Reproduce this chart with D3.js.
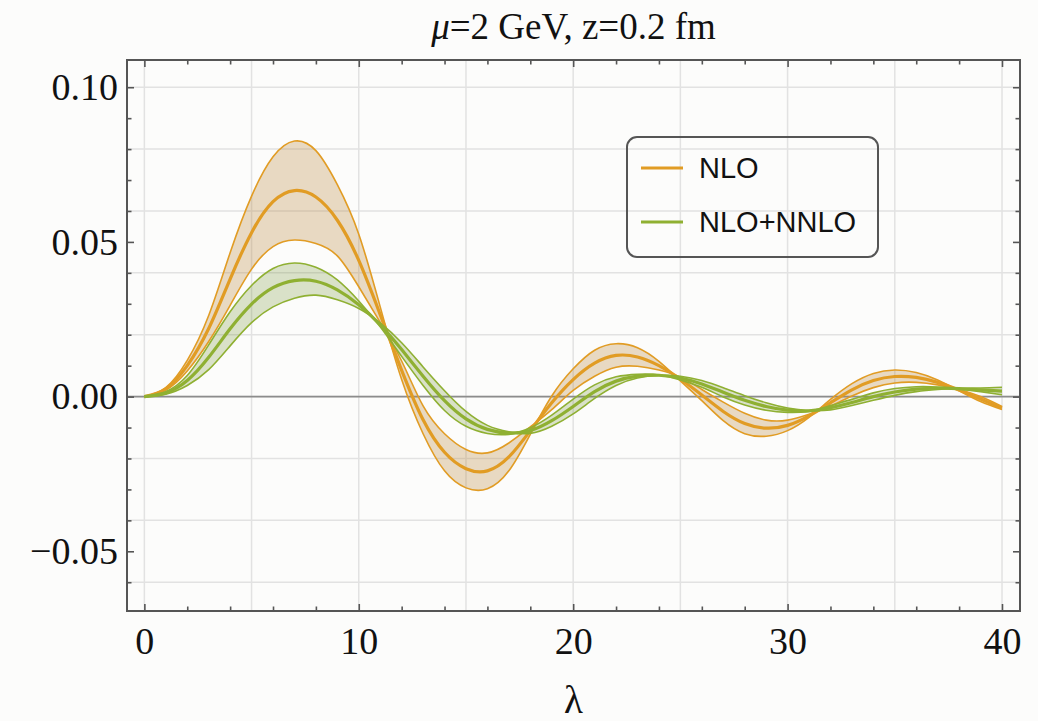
<!DOCTYPE html>
<html lang="en">
<head>
  <meta charset="utf-8" />
  <title>mu=2 GeV, z=0.2 fm</title>
  <script src="https://cdn.jsdelivr.net/npm/d3@7"></script>
  <style>
    body {
      margin: 0;
      background: #fcfcfb;
    }
    svg {
      display: block;
    }
    .tick text {
      font-family: "Liberation Serif", "Times New Roman", serif;
      font-size: 38px;
      fill: #111;
    }
  </style>
</head>
<body>

  <div id="chart"></div>

  <script type="text/javascript">

    // values, one per unit of lambda
    const lambda = [0, 1, 2, 3, 4, 5, 6, 7, 8, 9, 10, 11, 12, 13, 14, 15, 16, 17, 18, 19, 20,
                    21, 22, 23, 24, 25, 26, 27, 28, 29, 30, 31, 32, 33, 34, 35, 36, 37, 38, 39, 40];

    const nloCentral = [0, 0.0025, 0.0100, 0.0220, 0.0380, 0.0530, 0.0630, 0.0666, 0.0645, 0.0570, 0.0440,
                        0.0265, 0.0085, -0.0075, -0.0180, -0.0233, -0.0240, -0.0195, -0.0110, -0.0020, 0.0055,
                        0.0108, 0.0133, 0.0128, 0.0100, 0.0057, 0.0005, -0.0048, -0.0087, -0.0102, -0.0093,
                        -0.0062, -0.0020, 0.0022, 0.0052, 0.0065, 0.0062, 0.0046, 0.0021, -0.0008, -0.0037];
    const nloEdgeA = [0, 0.0029, 0.0117, 0.0262, 0.0465, 0.0648, 0.0775, 0.0826, 0.0795, 0.0685, 0.0525,
                      0.0290, 0.0055, -0.0120, -0.0240, -0.0295, -0.0298, -0.0240, -0.0122, 0.0002, 0.0090,
                      0.0150, 0.0171, 0.0158, 0.0114, 0.0051, -0.0013, -0.0078, -0.0120, -0.0128, -0.0110,
                      -0.0067, -0.0009, 0.0042, 0.0075, 0.0086, 0.0078, 0.0054, 0.0019, -0.0016, -0.0042];
    const nloEdgeB = [0, 0.0021, 0.0083, 0.0178, 0.0295, 0.0412, 0.0485, 0.0506, 0.0495, 0.0455, 0.0355,
                      0.0240, 0.0115, -0.0030, -0.0120, -0.0171, -0.0182, -0.0150, -0.0098, -0.0042, 0.0020,
                      0.0066, 0.0095, 0.0098, 0.0086, 0.0063, 0.0023, -0.0018, -0.0054, -0.0076, -0.0076,
                      -0.0057, -0.0031, 0.0002, 0.0029, 0.0044, 0.0046, 0.0038, 0.0023, 0.0000, -0.0032];

    const nnloCentral = [0, 0.0012, 0.0052, 0.0127, 0.0219, 0.0299, 0.0352, 0.0375, 0.0373, 0.0345, 0.0297,
                         0.0232, 0.0152, 0.0066, -0.0013, -0.0072, -0.0106, -0.0118, -0.0110, -0.0078, -0.0032,
                         0.0016, 0.0050, 0.0066, 0.0069, 0.0060, 0.0041, 0.0014, -0.0012, -0.0032, -0.0044,
                         -0.0046, -0.0036, -0.0019, 0.0000, 0.0015, 0.0024, 0.0027, 0.0026, 0.0022, 0.0018];
    const nnloEdgeA = [0, 0.0016, 0.0068, 0.0167, 0.0274, 0.0359, 0.0414, 0.0432, 0.0418, 0.0377, 0.0309,
                       0.0226, 0.0130, 0.0036, -0.0045, -0.0096, -0.0119, -0.0122, -0.0101, -0.0060, -0.0008,
                       0.0038, 0.0064, 0.0072, 0.0070, 0.0054, 0.0030, -0.0001, -0.0027, -0.0044, -0.0051,
                       -0.0047, -0.0029, -0.0009, 0.0012, 0.0026, 0.0032, 0.0031, 0.0025, 0.0016, 0.0006];
    const nnloEdgeB = [0, 0.0008, 0.0036, 0.0087, 0.0164, 0.0239, 0.0290, 0.0318, 0.0328, 0.0313, 0.0285,
                       0.0238, 0.0174, 0.0096, 0.0019, -0.0048, -0.0093, -0.0114, -0.0119, -0.0096, -0.0056,
                       -0.0006, 0.0036, 0.0060, 0.0068, 0.0066, 0.0052, 0.0029, 0.0003, -0.0020, -0.0037,
                       -0.0045, -0.0043, -0.0029, -0.0012, 0.0004, 0.0016, 0.0023, 0.0027, 0.0028, 0.0030];

    const seriesNames = ["NLO", "NLO+NNLO"];
    const xTickLabels = [0, 10, 20, 30, 40];
    const yTickLabels = [0.10, 0.05, 0.00, -0.05];

    const w = 1038;
    const h = 721;

    const lineColor = ["#e19c24", "#8fb032"];
    const bandColor = ["#b8893f", "#6f8f2f"];
    const bandOpacity = [0.3, 0.25];

    const x = d3.scaleLinear().domain([-0.81, 40.84]).range([127, 1020]);
    const y = d3.scaleLinear().domain([-0.0693, 0.1088]).range([611, 60]);

    const svg = d3.select("#chart")
                  .append("svg")
                  .attr("width", w)
                  .attr("height", h);

    svg.append("rect")
       .attr("width", w)
       .attr("height", h)
       .attr("fill", "#fcfcfb");

    // grid lines
    const xGrid = d3.range(0, 41, 5);
    const yGrid = d3.range(-3, 6).map(k => k * 0.02);

    svg.append("g")
       .selectAll("line")
       .data(xGrid)
       .enter()
       .append("line")
       .attr("x1", d => x(d)).attr("x2", d => x(d))
       .attr("y1", y.range()[0]).attr("y2", y.range()[1])
       .attr("stroke", "#e2e2e2")
       .attr("stroke-width", 1.5);

    svg.append("g")
       .selectAll("line")
       .data(yGrid)
       .enter()
       .append("line")
       .attr("x1", x.range()[0]).attr("x2", x.range()[1])
       .attr("y1", d => y(d)).attr("y2", d => y(d))
       .attr("stroke", "#e2e2e2")
       .attr("stroke-width", 1.5);

    // zero axis
    svg.append("line")
       .attr("x1", x.range()[0]).attr("x2", x.range()[1])
       .attr("y1", y(0)).attr("y2", y(0))
       .attr("stroke", "#8c8c8c")
       .attr("stroke-width", 1.6);

    const series = [
      { name: seriesNames[0], c: nloCentral, a: nloEdgeA, b: nloEdgeB },
      { name: seriesNames[1], c: nnloCentral, a: nnloEdgeA, b: nnloEdgeB }
    ];

    const curve = d3.curveNatural;

    const line = d3.line()
                   .x(d => x(d[0]))
                   .y(d => y(d[1]))
                   .curve(curve);

    const area = d3.area()
                   .x(d => x(d[0]))
                   .y0(d => y(d[1]))
                   .y1(d => y(d[2]))
                   .curve(curve);

    const plot = svg.append("g");

    series.forEach((s, i) => {
      const band = lambda.map((l, k) => [l, s.a[k], s.b[k]]);

      plot.append("path")
          .attr("d", area(band))
          .attr("fill", bandColor[i])
          .attr("fill-opacity", bandOpacity[i]);

      [s.a, s.b].forEach(edge => {
        plot.append("path")
            .attr("d", line(lambda.map((l, k) => [l, edge[k]])))
            .attr("fill", "none")
            .attr("stroke", lineColor[i])
            .attr("stroke-width", 1.6);
      });

      plot.append("path")
          .attr("d", line(lambda.map((l, k) => [l, s.c[k]])))
          .attr("fill", "none")
          .attr("stroke", lineColor[i])
          .attr("stroke-width", 3.2);
    });

    // frame
    svg.append("rect")
       .attr("x", x.range()[0])
       .attr("y", y.range()[1])
       .attr("width", x.range()[1] - x.range()[0])
       .attr("height", y.range()[0] - y.range()[1])
       .attr("fill", "none")
       .attr("stroke", "#555")
       .attr("stroke-width", 2);

    // ticks on all four sides, pointing inward
    const xMinor = d3.range(0, 41, 2).filter(d => d % 10 !== 0);
    const yMinor = d3.range(-6, 11).filter(k => k % 5 !== 0).map(k => k / 100);

    function drawAxis(axis, tx, ty, labels) {
      const g = svg.append("g")
                   .attr("transform", "translate(" + tx + "," + ty + ")")
                   .call(axis);
      g.select(".domain").remove();
      g.selectAll(".tick line").attr("stroke", "#555").attr("stroke-width", 1.6);
      if (!labels) g.selectAll(".tick text").remove();
      return g;
    }

    const fmtY = d3.format(".2f");

    drawAxis(d3.axisBottom(x).tickValues(xTickLabels).tickSize(-7).tickPadding(16), 0, y.range()[0], true);
    drawAxis(d3.axisBottom(x).tickValues(xMinor).tickSize(-4.5), 0, y.range()[0], false);
    drawAxis(d3.axisTop(x).tickValues(xTickLabels).tickSize(-7), 0, y.range()[1], false);
    drawAxis(d3.axisTop(x).tickValues(xMinor).tickSize(-4.5), 0, y.range()[1], false);

    drawAxis(d3.axisLeft(y).tickValues(yTickLabels).tickSize(-7).tickPadding(9).tickFormat(fmtY), x.range()[0], 0, true);
    drawAxis(d3.axisLeft(y).tickValues(yMinor).tickSize(-4.5), x.range()[0], 0, false);
    drawAxis(d3.axisRight(y).tickValues(yTickLabels).tickSize(-7), x.range()[1], 0, false);
    drawAxis(d3.axisRight(y).tickValues(yMinor).tickSize(-4.5), x.range()[1], 0, false);

    // title
    const title = svg.append("text")
                     .attr("x", (x.range()[0] + x.range()[1]) / 2)
                     .attr("y", 39)
                     .attr("text-anchor", "middle")
                     .attr("font-family", "'Liberation Serif', 'Times New Roman', serif")
                     .attr("font-size", 37)
                     .attr("fill", "#111");
    title.append("tspan").attr("font-style", "italic").text("μ");
    title.append("tspan").text("=2 GeV, z=0.2 fm");

    // axis label
    svg.append("text")
       .attr("x", (x.range()[0] + x.range()[1]) / 2)
       .attr("y", 713)
       .attr("text-anchor", "middle")
       .attr("font-family", "'Liberation Serif', 'Times New Roman', serif")
       .attr("font-size", 39)
       .attr("fill", "#111")
       .text("λ");

    // legend
    const legend = svg.append("g")
                      .attr("class", "legend")
                      .attr("transform", "translate(627,137)");

    legend.append("rect")
          .attr("width", 251)
          .attr("height", 120)
          .attr("rx", 10)
          .attr("fill", "none")
          .attr("stroke", "#555")
          .attr("stroke-width", 2);

    legend.selectAll("line")
          .data(seriesNames)
          .enter()
          .append("line")
          .attr("x1", 14)
          .attr("x2", 56)
          .attr("y1", (d, i) => 31 + i * 54)
          .attr("y2", (d, i) => 31 + i * 54)
          .attr("stroke", (d, i) => lineColor[i])
          .attr("stroke-width", 3.2);

    legend.selectAll("text")
          .data(seriesNames)
          .enter()
          .append("text")
          .attr("x", 72)
          .attr("y", (d, i) => 41 + i * 54)
          .attr("font-family", "'Liberation Sans', Arial, sans-serif")
          .attr("font-size", 29)
          .attr("fill", "#111")
          .text(d => d);

  </script>

</body>
</html>
